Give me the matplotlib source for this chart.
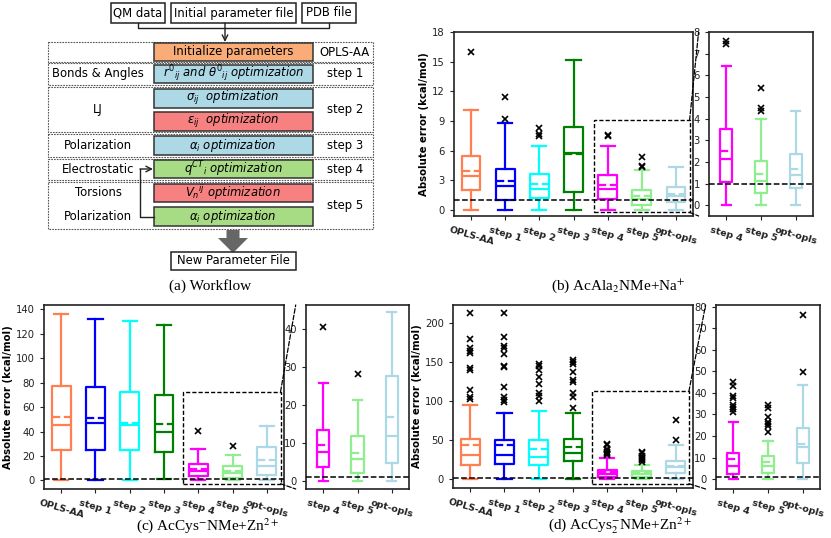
import matplotlib.pyplot as plt
from matplotlib.patches import Rectangle, FancyArrow, ConnectionPatch

W, H = 831, 538

# ---------------- data ----------------
labels = ["OPLS-AA", "step 1", "step 2", "step 3", "step 4", "step 5", "opt-opls"]
colors = ["coral", "blue", "cyan", "green", "magenta", "lightgreen", "lightblue"]

# (b) AcAla2NMe+Na+
b_q1 = [2.0, 1.0, 1.2, 1.8, 1.07, 0.55, 0.78]
b_med = [3.45, 2.4, 2.1, 5.75, 2.15, 1.1, 1.4]
b_q3 = [5.45, 4.2, 3.65, 8.4, 3.5, 2.02, 2.38]
b_lo = [0, 0, 0, 0, 0, 0, 0]
b_hi = [10.15, 8.8, 6.5, 15.2, 6.45, 4.0, 4.35]
b_mean = [3.95, 2.95, 2.6, 5.65, 2.5, 1.45, 1.65]
b_fliers = [[15.95], [9.25, 11.45], [7.5, 7.7, 8.25], [], [7.45, 7.6],
            [4.35, 4.5, 5.4], []]

# (c) AcCys-NMe+Zn2+
c_q1 = [25, 24.5, 24.5, 23, 3.5, 2.0, 4.6]
c_med = [45.5, 47, 45.5, 39.5, 7.5, 5.7, 11.8]
c_q3 = [77, 76.5, 72.5, 70, 13.3, 11.7, 27.7]
c_lo = [0, 0, 0, 1.5, 0, 0, 0]
c_hi = [136, 132, 130.5, 127, 25.8, 21.2, 44.6]
c_mean = [51.5, 51, 47, 46, 9.3, 7.4, 16.8]
c_fliers = [[], [], [], [], [40.5], [28.2], []]

# (d) AcCys-2NMe+Zn2+
d_q1 = [18, 19, 18, 23, 2.5, 3.0, 7.5]
d_med = [31, 31, 28, 33.5, 6, 6, 15]
d_q3 = [51, 50, 50, 51, 12, 10.8, 23.5]
d_lo = [0, 0, 0, 0, 0, 0, 0]
d_hi = [94, 84, 87, 85, 26.3, 17.5, 43.5]
d_mean = [43, 43, 38, 41, 9.5, 8, 16.5]
d_fliers = [[102, 105.5, 114, 139.5, 142, 161, 164, 167, 179, 212],
            [98, 101, 105, 118, 143, 145, 160, 167, 170, 181, 212],
            [100, 106, 110, 122, 131, 140, 144, 147],
            [90.6, 105.5, 110.6, 124, 127, 137, 147, 150, 152],
            [31, 32.4, 33.4, 34.4, 37.5, 38.6, 43.2, 45],
            [22, 24.5, 25.5, 26.5, 28.8, 33, 34.5],
            [49.5, 76]]

# workflow texts
inputs = ["QM data", "Initial parameter file", "PDB file"]
orange, blue, red, green = "#F9AC78", "#ADD8E6", "#F78080", "#A8DC84"
wf_rows = [
    ([""], "OPLS-AA", [("Initialize parameters", orange, "normal")]),
    (["Bonds & Angles"], "step 1",
     [(r"$r^0{}_{ij}$ and $\theta^0{}_{ij}$ optimization", blue, "italic")]),
    (["LJ"], "step 2", [(r"$\sigma_{ij}$  optimization", blue, "italic"),
                        (r"$\varepsilon_{ij}$  optimization", red, "italic")]),
    (["Polarization"], "step 3", [(r"$\alpha_i$ optimization", blue, "italic")]),
    (["Electrostatic"], "step 4", [(r"$q^{CT}{}_i$ optimization", green, "italic")]),
    (["Torsions", "Polarization"], "step 5",
     [(r"$V_n{}^{ij}$ optimization", red, "italic"),
      (r"$\alpha_i$ optimization", green, "italic")]),
]
FS = 8.4

fig = plt.figure(figsize=(W / 100, H / 100), dpi=100)


def px_axes(x0, y0, x1, y1):
    return fig.add_axes([x0 / W, 1 - y1 / H, (x1 - x0) / W, (y1 - y0) / H])


# ---------------- (a) workflow ----------------
wa = px_axes(0, 0, 410, 300)
wa.set_xlim(0, 410)
wa.set_ylim(300, 0)
wa.axis("off")

for (x0, x1), s in zip([(111, 165), (171, 296), (302, 356)], inputs):
    wa.add_patch(Rectangle((x0, 3), x1 - x0, 20, fc="white", ec="#222", lw=1.1))
    wa.text((x0 + x1) / 2, 13, s, ha="center", va="center", fontsize=FS)
wa.plot([138, 138, 329, 329], [23, 28, 28, 23], color="#222", lw=1)
wa.annotate("", xy=(225, 42), xytext=(225, 23),
            arrowprops=dict(arrowstyle="->", lw=1, color="#222", shrinkA=0, shrinkB=0))

row_y = [(42, 62), (63, 85), (87, 132), (134, 157), (159, 180), (182, 229)]
box_y = [[(42.5, 61)], [(65, 83)], [(89, 108), (112, 131)], [(136, 155)],
         [(160, 178)], [(184, 202), (207, 226)]]
for (left, right, boxes), (ry0, ry1), bys in zip(wf_rows, row_y, box_y):
    wa.add_patch(Rectangle((48, ry0), 325, ry1 - ry0, fill=False, ec="#555",
                           lw=0.8, ls=(0, (1.5, 1))))
    for (txt, fc, st), (by0, by1) in zip(boxes, bys):
        wa.add_patch(Rectangle((154, by0), 159, by1 - by0, fc=fc, ec="#333", lw=1.1))
        wa.text(233, (by0 + by1) / 2, txt, ha="center", va="center", fontsize=FS,
                style=st)
    if len(left) == 1:
        wa.text(98, (ry0 + ry1) / 2, left[0], ha="center", va="center", fontsize=FS)
    else:
        for s, (by0, by1) in zip(left, bys):
            wa.text(98, (by0 + by1) / 2, s, ha="center", va="center", fontsize=FS)
    wa.text(345, (ry0 + ry1) / 2, right, ha="center", va="center", fontsize=FS)

# feedback loop arrow
wa.plot([154, 140, 140], [216.5, 216.5, 169], color="#222", lw=1)
wa.annotate("", xy=(153, 169), xytext=(140, 169),
            arrowprops=dict(arrowstyle="->", lw=1, color="#222", shrinkA=0, shrinkB=0))
wa.add_patch(FancyArrow(233, 230, 0, 23, width=13, head_width=30, head_length=15,
                        length_includes_head=True, color="#666", lw=0))
wa.add_patch(Rectangle((171, 252), 125, 18, fc="white", ec="#222", lw=1.1))
wa.text(233.5, 261, "New Parameter File", ha="center", va="center", fontsize=FS)


# ---------------- box plot panels ----------------
def draw_boxes(ax, idx, q1, med, q3, lo, hi, mean, fliers, width):
    stats = [dict(label=labels[i], q1=q1[i], med=med[i], q3=q3[i], whislo=lo[i],
                  whishi=hi[i], mean=mean[i], fliers=fliers[i]) for i in idx]
    art = ax.bxp(stats, widths=width, capwidths=0.75 * width, showmeans=True,
                 meanline=True,
                 boxprops=dict(lw=1.6), whiskerprops=dict(lw=1.6),
                 capprops=dict(lw=1.6), medianprops=dict(lw=1.6),
                 meanprops=dict(lw=1.6, ls="--"),
                 flierprops=dict(marker="x", markeredgecolor="k", markersize=4.5,
                                 markeredgewidth=1.2))
    for j, i in enumerate(idx):
        c = colors[i]
        art["boxes"][j].set_color(c)
        art["medians"][j].set_color(c)
        art["means"][j].set_color(c)
        for k in (2 * j, 2 * j + 1):
            art["whiskers"][k].set_color(c)
            art["caps"][k].set_color(c)
    ax.axhline(1, color="k", lw=1.1, ls="--", zorder=4)
    ax.tick_params(axis="y", labelsize=7.2, length=3, colors="#222")
    ax.tick_params(axis="x", labelsize=6.8, length=3, colors="#222")
    for t in ax.get_xticklabels():
        t.set_fontweight("bold")
        t.set_rotation(-16)
        t.set_ha("center")
    for sp in ax.spines.values():
        sp.set_linewidth(1.2)
        sp.set_color("#222")


def panel(main_px, inset_px, data, ylim, yticks, in_ylim, in_yticks, rect_x, rect_y,
          caption, cap_xy):
    q1, med, q3, lo, hi, mean, fliers = data
    ax = px_axes(*main_px)
    draw_boxes(ax, range(7), q1, med, q3, lo, hi, mean, fliers, 0.55)
    ax.set_xlim(0.5, 7.5)
    ax.set_ylim(*ylim)
    ax.set_yticks(yticks)
    ax.set_ylabel("Absolute error (kcal/mol)", fontsize=7.3, fontweight="bold",
                  labelpad=2)
    ax.add_patch(Rectangle((rect_x[0], rect_y[0]), rect_x[1] - rect_x[0],
                           rect_y[1] - rect_y[0], fill=False, ec="k", lw=1,
                           ls=(0, (3, 1.5)), zorder=5))
    ins = px_axes(*inset_px)
    draw_boxes(ins, range(4, 7), q1, med, q3, lo, hi, mean, fliers, 0.35)
    ins.set_xlim(0.5, 3.5)
    ins.set_ylim(*in_ylim)
    ins.set_yticks(in_yticks)
    for ya, yb in ((rect_y[1], 1), (rect_y[0], 0)):
        con = ConnectionPatch(xyA=(rect_x[1], ya), coordsA=ax.transData,
                              xyB=(-0.1, yb), coordsB=ins.transAxes,
                              color="k", lw=0.9, ls="--")
        fig.add_artist(con)
    fig.text(cap_xy[0] / W, 1 - cap_xy[1] / H, caption, ha="center", va="center",
             fontsize=11, family="Liberation Serif", math_fontfamily="stix")


panel((454, 32, 693, 216), (709, 32, 813, 216),
      (b_q1, b_med, b_q3, b_lo, b_hi, b_mean, b_fliers),
      (-0.6, 18), range(0, 19, 3), (-0.5, 8), range(0, 9),
      (4.6, 7.4), (-0.24, 9.07), r"(b) AcAla$_2$NMe+Na$^{+}$", (618, 286))
panel((44, 305, 284, 489), (306, 305, 409, 489),
      (c_q1, c_med, c_q3, c_lo, c_hi, c_mean, c_fliers),
      (-7, 143.5), range(0, 141, 20), (-2.2, 46.4), range(0, 41, 10),
      (4.55, 7.4), (-2.7, 72.7), r"(c) AcCys$^{-}$NMe+Zn$^{2+}$", (208, 526))
panel((453, 305, 693, 488), (716, 305, 820, 489),
      (d_q1, d_med, d_q3, d_lo, d_hi, d_mean, d_fliers),
      (-11.5, 222.5), range(0, 201, 50), (-4.6, 80.8), range(0, 81, 10),
      (4.56, 7.38), (-6, 112), r"(d) AcCys$^{-}_{2}$NMe+Zn$^{2+}$", (620, 526))

fig.text(210 / W, 1 - 286 / H, "(a) Workflow", ha="center", va="center", fontsize=11,
         family="Liberation Serif")

fig.savefig("out.png", dpi=100)
